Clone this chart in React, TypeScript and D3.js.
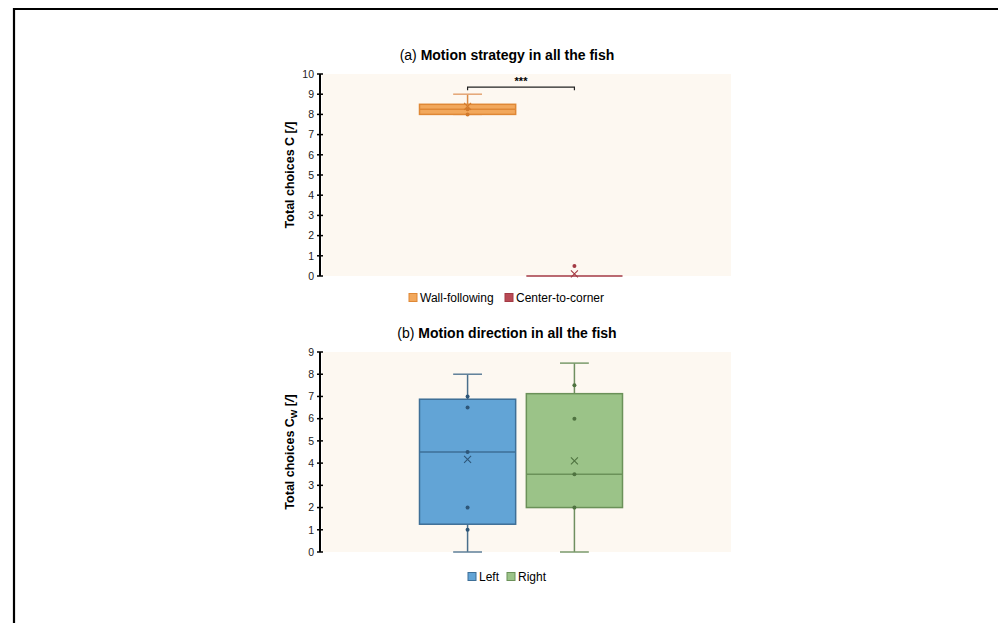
import React, { useRef, useEffect } from "react";
import * as d3 from "d3";

// panel (a) motion strategy
const strategyCats = ["Wall-following", "Center-to-corner"];
const strategyQ1 = [8.0, 0.0];
const strategyMedian = [8.25, 0.0];
const strategyQ3 = [8.5, 0.0];
const strategyMin = [8.0, 0.0];
const strategyMax = [9.0, 0.0];
const strategyMean = [8.4, 0.1];
const strategyPoints = [[8.0, 8.25], [0.5]];
const strategyTicks = [0, 1, 2, 3, 4, 5, 6, 7, 8, 9, 10];

// panel (b) motion direction
const directionCats = ["Left", "Right"];
const directionQ1 = [1.25, 2.0];
const directionMedian = [4.5, 3.5];
const directionQ3 = [6.875, 7.125];
const directionMin = [0, 0];
const directionMax = [8.0, 8.5];
const directionMean = [4.17, 4.1];
const directionPoints = [[7.0, 6.5, 4.5, 2.0, 1.0], [7.5, 6.0, 3.5, 2.0]];
const directionTicks = [0, 1, 2, 3, 4, 5, 6, 7, 8, 9];

const FONT = "'Liberation Sans', Arial, Helvetica, sans-serif";

const App = () => {
    const canvas = useRef<SVGSVGElement>(null);

    const width = 998;
    const height = 623;

    const drawPanel = (svg: any, opt: any) => {
        const x = d3.scaleBand().domain(opt.cats).range([318, 724]).paddingInner(0.1).paddingOuter(0.95);
        const y = d3.scaleLinear().domain([0, opt.yMax]).range([opt.bottom, opt.top]);

        const g = svg.append("g");

        g.append("rect")
            .attr("x", 322).attr("y", y(opt.yMax))
            .attr("width", 409).attr("height", y(0) - y(opt.yMax))
            .attr("fill", "#fdf8f1");

        // title
        const t = g.append("text")
            .attr("x", 507).attr("y", opt.titleY)
            .attr("text-anchor", "middle")
            .attr("font-family", FONT).attr("font-size", 14).attr("font-weight", "bold");
        t.append("tspan").attr("font-weight", "normal").text(opt.titleTag + " ");
        t.append("tspan").text(opt.title);

        opt.cats.forEach((c: string, i: number) => {
            const x0 = x(c)!;
            const bw = x.bandwidth();
            const cx = x0 + bw / 2;
            const capW = bw * 0.3;
            const col = opt.colors[i];

            // whiskers
            g.append("line").attr("x1", cx).attr("x2", cx)
                .attr("y1", y(opt.max[i])).attr("y2", y(opt.q3[i]))
                .attr("stroke", col.whisker).attr("stroke-width", 1.5);
            g.append("line").attr("x1", cx).attr("x2", cx)
                .attr("y1", y(opt.q1[i])).attr("y2", y(opt.min[i]))
                .attr("stroke", col.whisker).attr("stroke-width", 1.5);
            [opt.max[i], opt.min[i]].forEach((v: number) => {
                if (opt.q3[i] - opt.q1[i] === 0 && v === opt.q1[i]) return;
                g.append("line").attr("x1", cx - capW / 2).attr("x2", cx + capW / 2)
                    .attr("y1", y(v)).attr("y2", y(v))
                    .attr("stroke", col.cap).attr("stroke-width", 1.5);
            });

            // box
            g.append("rect")
                .attr("x", x0).attr("y", y(opt.q3[i]))
                .attr("width", bw).attr("height", Math.max(0, y(opt.q1[i]) - y(opt.q3[i])))
                .attr("fill", col.fill).attr("stroke", col.stroke).attr("stroke-width", 1.5);
            g.append("line").attr("x1", x0).attr("x2", x0 + bw)
                .attr("y1", y(opt.median[i])).attr("y2", y(opt.median[i]))
                .attr("stroke", col.stroke).attr("stroke-width", 1.5);

            // points
            g.selectAll(null).data(opt.points[i]).enter().append("circle")
                .attr("cx", cx).attr("cy", (d: number) => y(d))
                .attr("r", 2).attr("fill", col.point);

            // mean
            const my = y(opt.mean[i]);
            const s = 3.5;
            g.append("path")
                .attr("d", `M${cx - s},${my - s}L${cx + s},${my + s}M${cx - s},${my + s}L${cx + s},${my - s}`)
                .attr("stroke", col.point).attr("stroke-width", 1.1).attr("fill", "none");
        });

        // y axis
        const ax = g.append("g");
        ax.append("line").attr("x1", 320).attr("x2", 320)
            .attr("y1", y(opt.yMax)).attr("y2", y(0))
            .attr("stroke", "#000").attr("stroke-width", 2);
        opt.ticks.forEach((v: number) => {
            ax.append("line").attr("x1", 317).attr("x2", 323)
                .attr("y1", y(v)).attr("y2", y(v))
                .attr("stroke", "#000").attr("stroke-width", 1.5);
            ax.append("text").attr("x", 314).attr("y", y(v) + 3.8)
                .attr("text-anchor", "end")
                .attr("font-family", FONT).attr("font-size", 10.5).attr("fill", "#222")
                .text(v);
        });

        // y label
        const ymid = (y(0) + y(opt.yMax)) / 2;
        const yl = g.append("text")
            .attr("transform", `translate(294,${ymid}) rotate(-90)`)
            .attr("text-anchor", "middle")
            .attr("font-family", FONT).attr("font-size", 12.5).attr("font-weight", "bold");
        yl.append("tspan").text("Total choices C");
        if (opt.sub) yl.append("tspan").attr("font-size", 9).attr("dy", 3).text(opt.sub);
        yl.append("tspan").attr("dy", opt.sub ? -3 : 0).text(" [");
        yl.append("tspan").attr("font-style", "italic").text("/");
        yl.append("tspan").text("]");

        // legend
        opt.legend.forEach((l: any, i: number) => {
            g.append("rect").attr("x", l.x).attr("y", opt.legendY - 8.5)
                .attr("width", 8).attr("height", 8)
                .attr("fill", opt.colors[i].fill).attr("stroke", opt.colors[i].stroke).attr("stroke-width", 1);
            g.append("text").attr("x", l.x + 11).attr("y", opt.legendY)
                .attr("font-family", FONT).attr("font-size", 12)
                .text(opt.cats[i]);
        });

        return { x, y, g };
    };

    const drawChart = () => {
        const svg = d3.select(canvas.current);
        svg.selectAll("*").remove();

        // frame
        svg.append("path").attr("d", "M14,623L14,9L998,9")
            .attr("stroke", "#000").attr("stroke-width", 2.2).attr("fill", "none");

        const a = drawPanel(svg, {
            cats: strategyCats, yMax: 10, top: 74, bottom: 276, ticks: strategyTicks,
            q1: strategyQ1, median: strategyMedian, q3: strategyQ3, min: strategyMin, max: strategyMax,
            mean: strategyMean, points: strategyPoints,
            titleTag: "(a)", title: "Motion strategy in all the fish", titleY: 60,
            sub: null, legendY: 302,
            legend: [{ x: 409 }, { x: 505 }],
            colors: [
                { fill: "#f2a85c", stroke: "#df8836", whisker: "#d98a45", cap: "#e4a574", point: "#d27a2c" },
                { fill: "#b94a55", stroke: "#a33a44", whisker: "#a33a44", cap: "#a33a44", point: "#a33a44" },
            ],
        });

        // significance bracket
        const c0 = a.x(strategyCats[0])! + a.x.bandwidth() / 2;
        const c1 = a.x(strategyCats[1])! + a.x.bandwidth() / 2;
        const by = a.y(9.35);
        a.g.append("path").attr("d", `M${c0},${by + 3}L${c0},${by}L${c1},${by}L${c1},${by + 3}`)
            .attr("stroke", "#222").attr("stroke-width", 1.2).attr("fill", "none");
        a.g.append("text").attr("x", (c0 + c1) / 2).attr("y", by - 2)
            .attr("text-anchor", "middle").attr("font-family", FONT)
            .attr("font-size", 11).attr("font-weight", "bold").text("***");

        drawPanel(svg, {
            cats: directionCats, yMax: 9, top: 352, bottom: 552, ticks: directionTicks,
            q1: directionQ1, median: directionMedian, q3: directionQ3, min: directionMin, max: directionMax,
            mean: directionMean, points: directionPoints,
            titleTag: "(b)", title: "Motion direction in all the fish", titleY: 338,
            sub: "W", legendY: 581,
            legend: [{ x: 468 }, { x: 507 }],
            colors: [
                { fill: "#62a4d6", stroke: "#3e6f97", whisker: "#4a6f8c", cap: "#5e7f99", point: "#2e5678" },
                { fill: "#9bc388", stroke: "#6b9159", whisker: "#6f8f60", cap: "#7a9a6b", point: "#4f7340" },
            ],
        });
    };

    useEffect(() => {
        drawChart();
    });

    return (
        <svg ref={canvas} width={width} height={height}
            style={{ position: "absolute", left: 0, top: 0, background: "#fff" }}></svg>
    );
};

export default App;
